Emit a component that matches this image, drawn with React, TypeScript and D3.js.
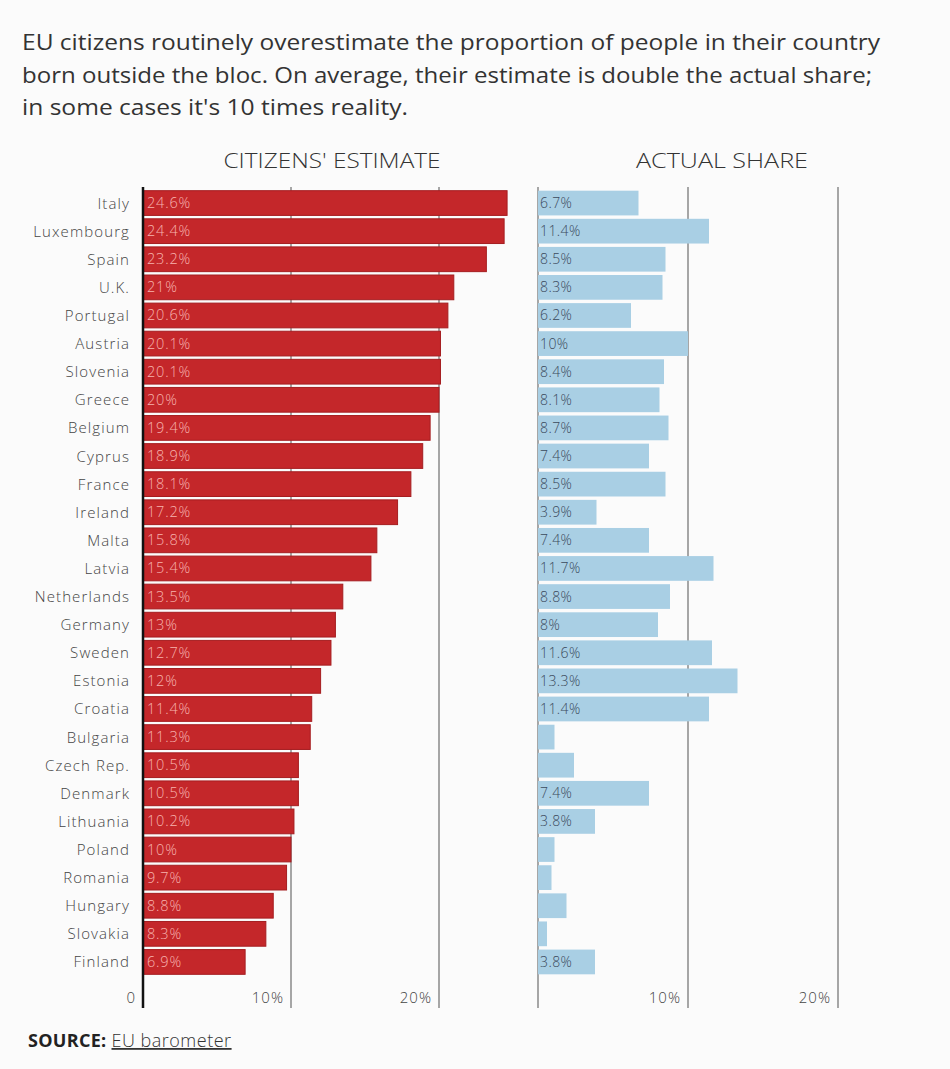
import React from "react";
import * as d3 from "d3";

const titleLines = [
  "EU citizens routinely overestimate the proportion of people in their country",
  "born outside the bloc. On average, their estimate is double the actual share;",
  "in some cases it's 10 times reality.",
];
const titleWidths = [858, 850, 386];

const countries = [
  "Italy", "Luxembourg", "Spain", "U.K.", "Portugal", "Austria", "Slovenia", "Greece",
  "Belgium", "Cyprus", "France", "Ireland", "Malta", "Latvia", "Netherlands", "Germany",
  "Sweden", "Estonia", "Croatia", "Bulgaria", "Czech Rep.", "Denmark", "Lithuania",
  "Poland", "Romania", "Hungary", "Slovakia", "Finland",
];

const estimate = [
  24.6, 24.4, 23.2, 21, 20.6, 20.1, 20.1, 20, 19.4, 18.9, 18.1, 17.2, 15.8, 15.4, 13.5,
  13, 12.7, 12, 11.4, 11.3, 10.5, 10.5, 10.2, 10, 9.7, 8.8, 8.3, 6.9,
];

const actual = [
  6.7, 11.4, 8.5, 8.3, 6.2, 10, 8.4, 8.1, 8.7, 7.4, 8.5, 3.9, 7.4, 11.7, 8.8, 8, 11.6,
  13.3, 11.4, 1.1, 2.4, 7.4, 3.8, 1.1, 0.9, 1.9, 0.6, 3.8,
];

// labels shown on actual-share bars (null = no label)
const actualLabels = [
  "6.7%", "11.4%", "8.5%", "8.3%", "6.2%", "10%", "8.4%", "8.1%", "8.7%", "7.4%", "8.5%",
  "3.9%", "7.4%", "11.7%", "8.8%", "8%", "11.6%", "13.3%", "11.4%", null, null, "7.4%",
  "3.8%", null, null, null, null, "3.8%",
];

const estimateLabels = [
  "24.6%", "24.4%", "23.2%", "21%", "20.6%", "20.1%", "20.1%", "20%", "19.4%", "18.9%",
  "18.1%", "17.2%", "15.8%", "15.4%", "13.5%", "13%", "12.7%", "12%", "11.4%", "11.3%",
  "10.5%", "10.5%", "10.2%", "10%", "9.7%", "8.8%", "8.3%", "6.9%",
];

const ticks = [0, 10, 20];
const tickLabels = ["0", "10%", "20%"];

const FONT = "'Open Sans', Lato, sans-serif";

export default function App() {
  const W = 950;
  const H = 1069;
  const y = d3.scaleBand<string>().domain(countries).range([189, 976]).paddingInner(0.12).paddingOuter(0.06);
  const xL = d3.scaleLinear().domain([0, 20]).range([143, 439]);
  const xR = d3.scaleLinear().domain([0, 20]).range([538, 838]);
  const bw = y.bandwidth();
  const gridTop = 187;
  const gridBot = 1008;

  return (
    <svg
      width={W}
      height={H}
      style={{ position: "absolute", left: 0, top: 0, background: "#fbfbfb" }}
      fontFamily={FONT}
    >
      <rect x={0} y={0} width={W} height={H} fill="#fbfbfb" />
      {titleLines.map((t, i) => (
        <text
          key={i}
          x={22}
          y={50 + i * 32.5}
          fontSize={22}
          fontWeight={400}
          fill="#333"
          textLength={titleWidths[i]}
          lengthAdjust="spacingAndGlyphs"
        >
          {t}
        </text>
      ))}
      <text x={332} y={168} fontSize={20} fontWeight={300} fill="#333" textAnchor="middle" textLength={217} lengthAdjust="spacingAndGlyphs">
        CITIZENS' ESTIMATE
      </text>
      <text x={722} y={168} fontSize={20} fontWeight={300} fill="#333" textAnchor="middle" textLength={172} lengthAdjust="spacingAndGlyphs">
        ACTUAL SHARE
      </text>

      {/* left gridlines */}
      {ticks.slice(1).map((t) => (
        <line key={"gl" + t} x1={xL(t)} x2={xL(t)} y1={gridTop} y2={gridBot} stroke="#8a8a8a" strokeWidth={1.5} />
      ))}
      {/* right gridlines */}
      {ticks.map((t) => (
        <line key={"gr" + t} x1={xR(t)} x2={xR(t)} y1={gridTop} y2={gridBot} stroke="#8a8a8a" strokeWidth={1.5} />
      ))}

      {/* estimate bars */}
      {countries.map((c, i) => (
        <g key={"e" + c}>
          <rect
            x={xL(0)}
            y={y(c)}
            width={xL(estimate[i]) - xL(0)}
            height={bw}
            fill="#c4272a"
            stroke="#a51d20"
            strokeWidth={1}
          />
          <text x={xL(0) + 4} y={(y(c) as number) + bw / 2 + 5} fontSize={14.5} fontWeight={300} fill="#f7b3ae" letterSpacing={0.8}>
            {estimateLabels[i]}
          </text>
          <text x={130} y={(y(c) as number) + bw / 2 + 5.5} fontSize={15} fontWeight={300} fill="#444" textAnchor="end" letterSpacing={1.1}>
            {c}
          </text>
        </g>
      ))}

      {/* actual bars */}
      {countries.map((c, i) => (
        <g key={"a" + c}>
          <rect
            x={xR(0)}
            y={y(c)}
            width={xR(actual[i]) - xR(0)}
            height={bw}
            fill="#a9cfe4"
          />
          {actualLabels[i] && (
            <text x={xR(0) + 2} y={(y(c) as number) + bw / 2 + 5} fontSize={14} fontWeight={300} fill="#3b4a5c" letterSpacing={0.4}>
              {actualLabels[i]}
            </text>
          )}
        </g>
      ))}

      {/* left zero axis */}
      <line x1={xL(0)} x2={xL(0)} y1={gridTop} y2={gridBot} stroke="#111" strokeWidth={2.5} />

      {/* tick labels */}
      {ticks.map((t, i) => (
        <text key={"tl" + t} x={xL(t) - 7} y={1003} fontSize={15} fontWeight={300} fill="#444" textAnchor="end" letterSpacing={1}>
          {tickLabels[i]}
        </text>
      ))}
      {ticks.slice(1).map((t, i) => (
        <text key={"tr" + t} x={xR(t) - 7} y={1003} fontSize={15} fontWeight={300} fill="#444" textAnchor="end" letterSpacing={1}>
          {tickLabels[i + 1]}
        </text>
      ))}

      <text x={28} y={1047} fontSize={18} fill="#222">
        <tspan fontWeight="bold" letterSpacing={0.3}>SOURCE: </tspan>
        <tspan textDecoration="underline" fill="#333" fontWeight={300} letterSpacing={0.5}>EU barometer</tspan>
      </text>
    </svg>
  );
}
